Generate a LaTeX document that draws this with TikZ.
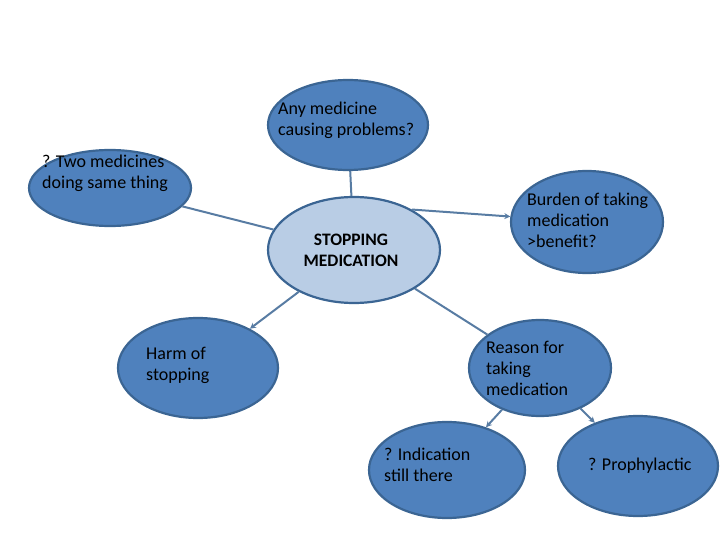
\documentclass[tikz,border=0pt]{standalone}
\usepackage{fontspec}
\setmainfont{Carlito}
\usetikzlibrary{shapes.geometric,arrows.meta}
\definecolor{edge}{HTML}{3B6593}
\definecolor{bfill}{HTML}{4F81BD}
\definecolor{cfill}{HTML}{B9CDE5}
\tikzset{
 bub/.style={ellipse,draw=edge,line width=2.2pt,fill=bfill,inner sep=0pt},
 txt/.style={anchor=west,align=left,font=\fontsize{18pt}{21pt}\selectfont,inner sep=0pt},
 con/.style={draw=edge!85,line width=2pt},
 arr/.style={con,-{Stealth[length=6pt,width=6pt]}}
}
\begin{document}
\begin{tikzpicture}[x=1pt,y=-1pt]
\useasboundingbox (0,0) rectangle (720,540);
\node[bub,minimum width=160,minimum height=90] (top) at (348,125) {};
\node[bub,minimum width=162,minimum height=76] (two) at (110,188) {};
\node[bub,fill=cfill,minimum width=172,minimum height=106] (mid) at (354,250) {};
\node[bub,minimum width=152,minimum height=102] (bur) at (587,222) {};
\node[bub,minimum width=160,minimum height=100] (harm) at (198,368) {};
\node[bub,minimum width=142,minimum height=96] (rea) at (540,368) {};
\node[bub,minimum width=156,minimum height=96] (ind) at (447,470) {};
\node[bub,minimum width=160,minimum height=100] (pro) at (638,466) {};
\node[txt] (ttop) at (278,120) {Any medicine\\causing problems?};
\node[txt] (ttwo) at (42,173) {? Two medicines\\doing same thing};
\node[txt,align=center,anchor=center,font=\fontsize{17.5pt}{21pt}\selectfont\bfseries] (tmid) at (351,250) {STOPPING\\MEDICATION};
\node[txt] (tbur) at (527,220) {Burden of taking\\medication\\>benefit?};
\node[txt] (tharm) at (146,365) {Harm of\\stopping};
\node[txt] (trea) at (486,368) {Reason for\\taking\\medication};
\node[txt] (tind) at (384,465) {? Indication\\still there};
\node[txt] (tpro) at (588,466) {? Prophylactic};
\draw[con] (two) -- (mid);
\draw[con] (top) -- (mid);
\draw[arr] (mid.35) -- (bur);
\draw[arr] (mid) -- (harm);
\draw[con] (mid) -- (rea);
\draw[arr] (rea) -- (ind);
\draw[arr] (rea) -- (pro);
\end{tikzpicture}
\end{document}
